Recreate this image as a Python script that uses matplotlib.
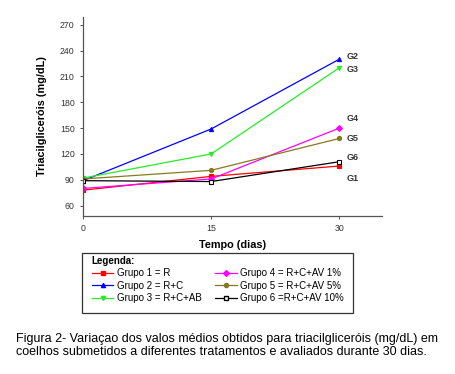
import matplotlib.pyplot as plt
from matplotlib.lines import Line2D
from matplotlib.patches import Rectangle

plt.rcParams['font.family'] = ['Liberation Sans', 'DejaVu Sans']

# tempo (dias) e triacilgliceróis (mg/dL) por grupo
dias = [0, 15, 30]
g1 = [78, 94, 106]
g2 = [89, 149, 230]
g3 = [92, 120, 220]
g4 = [80, 91, 150]
g5 = [91, 101, 138]
g6 = [89, 88, 111]

grupos = [g1, g2, g3, g4, g5, g6]
rotulos = ['Grupo 1 = R', 'Grupo 2 = R+C', 'Grupo 3 = R+C+AB',
           'Grupo 4 = R+C+AV 1%', 'Grupo 5 = R+C+AV 5%', 'Grupo 6 =R+C+AV 10%']
nomes = ['G1', 'G2', 'G3', 'G4', 'G5', 'G6']
cores = ['#ff0000', '#0000ff', '#22ee22', '#ff00ff', '#857a20', '#000000']
marcadores = ['s', '^', 'v', 'D', 'o', 's']
yticks = [60, 90, 120, 150, 180, 210, 240, 270]
xticks = [0, 15, 30]

fig = plt.figure(figsize=(4.55, 3.74), dpi=100)
ax = fig.add_axes([83/455, 1-216/374, (382-83)/455, (216-17)/374])

handles = []
for i, vals in enumerate(grupos):
    face = 'white' if i == 5 else cores[i]
    ln, = ax.plot(dias, vals, color=cores[i], lw=0.9, marker=marcadores[i],
                  ms=3.0, mfc=face, mec=cores[i], mew=0.8)
    handles.append(ln)

# rótulos G1..G6 à direita dos pontos finais
offsets = {'G1': -9, 'G2': 2, 'G3': -1, 'G4': 7, 'G5': 0, 'G6': 3}
for i, vals in enumerate(grupos):
    ax.annotate(nomes[i], (dias[-1], vals[-1]), xytext=(5, offsets[nomes[i]]),
                textcoords='offset points', fontsize=6.5, fontweight='bold',
                color='#333333', va='center', ha='left')

ax.set_xlim(0, 35)
ax.set_ylim(48, 279)
ax.set_xticks(xticks)
ax.set_yticks(yticks)
ax.spines['top'].set_visible(False)
ax.spines['right'].set_visible(False)
for s in ['left', 'bottom']:
    ax.spines[s].set_color('#555555')
    ax.spines[s].set_linewidth(0.9)
ax.tick_params(labelsize=6.3, colors='#333333', length=2.5, width=0.6)
ax.set_xlabel('Tempo (dias)', fontsize=7.8, fontweight='bold', labelpad=5)
ax.set_ylabel('Triacilgliceróis (mg/dL)', fontsize=7.8, fontweight='bold', labelpad=9)

# caixa da legenda
fig.patches.append(Rectangle((82/455, 1-313/374), 271/455, 60/374,
                             transform=fig.transFigure, fill=False,
                             edgecolor='#333333', lw=0.9))

leg_handles = [Line2D([0], [0], color=h.get_color(), marker=h.get_marker(),
                      ms=3, mfc=h.get_markerfacecolor(), mec=h.get_color(), lw=0.9)
               for h in handles]
leg = fig.legend(leg_handles, rotulos, ncol=2, loc='upper left',
                 bbox_to_anchor=(86/455, 1-313/374, 264/455, 63/374), mode='expand',
                 title='Legenda:', alignment='left', fontsize=7,
                 title_fontproperties={'weight': 'bold', 'size': 7},
                 frameon=False, handlelength=2.2,
                 handletextpad=0.4, labelspacing=0.25, borderpad=0.1,
                 columnspacing=1.5)

fig.text(16/455, 1-339/374,
         'Figura 2- Variaçao dos valos médios obtidos para triacilgliceróis (mg/dL) em',
         fontsize=9, va='center', ha='left')
fig.text(16/455, 1-352/374,
         'coelhos submetidos a diferentes tratamentos e avaliados durante 30 dias.',
         fontsize=9, va='center', ha='left')

fig.savefig('out.png', dpi=100)
